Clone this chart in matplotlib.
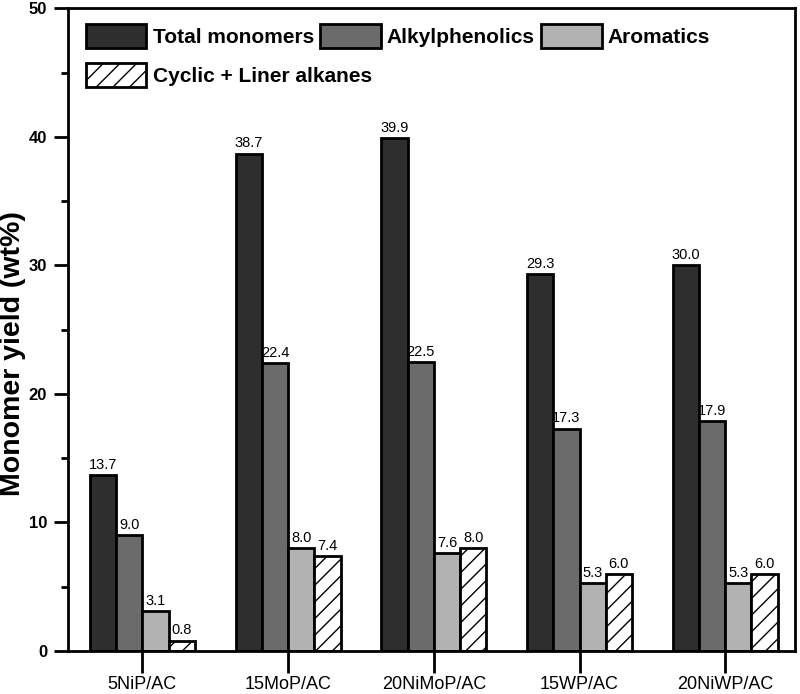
import numpy as np
import matplotlib.pyplot as plt
from matplotlib.ticker import MultipleLocator

plt.rcParams['font.family'] = ['Liberation Sans', 'DejaVu Sans']
plt.rcParams['hatch.linewidth'] = 1.0

catalysts = ["5NiP/AC", "15MoP/AC", "20NiMoP/AC", "15WP/AC", "20NiWP/AC"]
total_monomers = [13.7, 38.7, 39.9, 29.3, 30.0]
alkylphenolics = [9.0, 22.4, 22.5, 17.3, 17.9]
aromatics = [3.1, 8.0, 7.6, 5.3, 5.3]
alkanes = [0.8, 7.4, 8.0, 6.0, 6.0]

series = [
    ("Total monomers", total_monomers, "#2e2e2e", None),
    ("Alkylphenolics", alkylphenolics, "#6b6b6b", None),
    ("Aromatics", aromatics, "#b2b2b2", None),
    ("Cyclic + Liner alkanes", alkanes, "white", "//"),
]

fig = plt.figure(figsize=(8, 6.94), dpi=100)
ax = fig.add_axes([0.085, 0.062, 0.909, 0.926])

x = np.arange(len(catalysts))
width = 0.18
handles = []
for i, (name, vals, color, hatch) in enumerate(series):
    pos = x + (i - 1.5) * width
    bars = ax.bar(pos, vals, width, color=color, edgecolor="black",
                  linewidth=2, hatch=hatch, label=name)
    handles.append(bars)
    for xi, v in zip(pos, vals):
        ax.text(xi, v + 0.25, f"{v:.1f}", ha="center", va="bottom", fontsize=10.5)

ax.set_xlim(-0.51, 4.48)
ax.set_ylim(0, 50)
ax.set_xticks(x)
ax.set_xticklabels(catalysts, fontsize=13)
ax.yaxis.set_major_locator(MultipleLocator(10))
ax.yaxis.set_minor_locator(MultipleLocator(5))
ax.tick_params(axis="y", which="major", direction="out", length=10, width=2,
               labelsize=12, pad=5)
ax.tick_params(axis="y", which="minor", direction="out", length=5, width=2)
ax.tick_params(axis="x", which="major", direction="out", length=16, width=2, pad=2)
for lbl in ax.get_yticklabels():
    lbl.set_fontweight("bold")
for s in ax.spines.values():
    s.set_linewidth(2)

# y label hugs the left edge of the figure, like the original
ax.set_ylabel("Monomer yield (wt%)", fontsize=20.5, fontweight="bold")
ax.yaxis.label.set(rotation_mode="default", ha="left", va="center")
ax.yaxis.set_label_coords(-0.0935, 0.463)

leg_kw = dict(frameon=False, prop={"weight": "bold", "size": 15},
              handlelength=2.9, handleheight=1.4, columnspacing=0.3,
              handletextpad=0.3, borderaxespad=0, borderpad=0, loc="upper left")
leg1 = ax.legend(handles[:3], [h.get_label() for h in handles[:3]], ncol=3,
                 bbox_to_anchor=(0.0248, 0.975), **leg_kw)
ax.add_artist(leg1)
ax.legend(handles[3:], [handles[3].get_label()],
          bbox_to_anchor=(0.0248, 0.9145), **leg_kw)

fig.savefig("out.png", dpi=100)
